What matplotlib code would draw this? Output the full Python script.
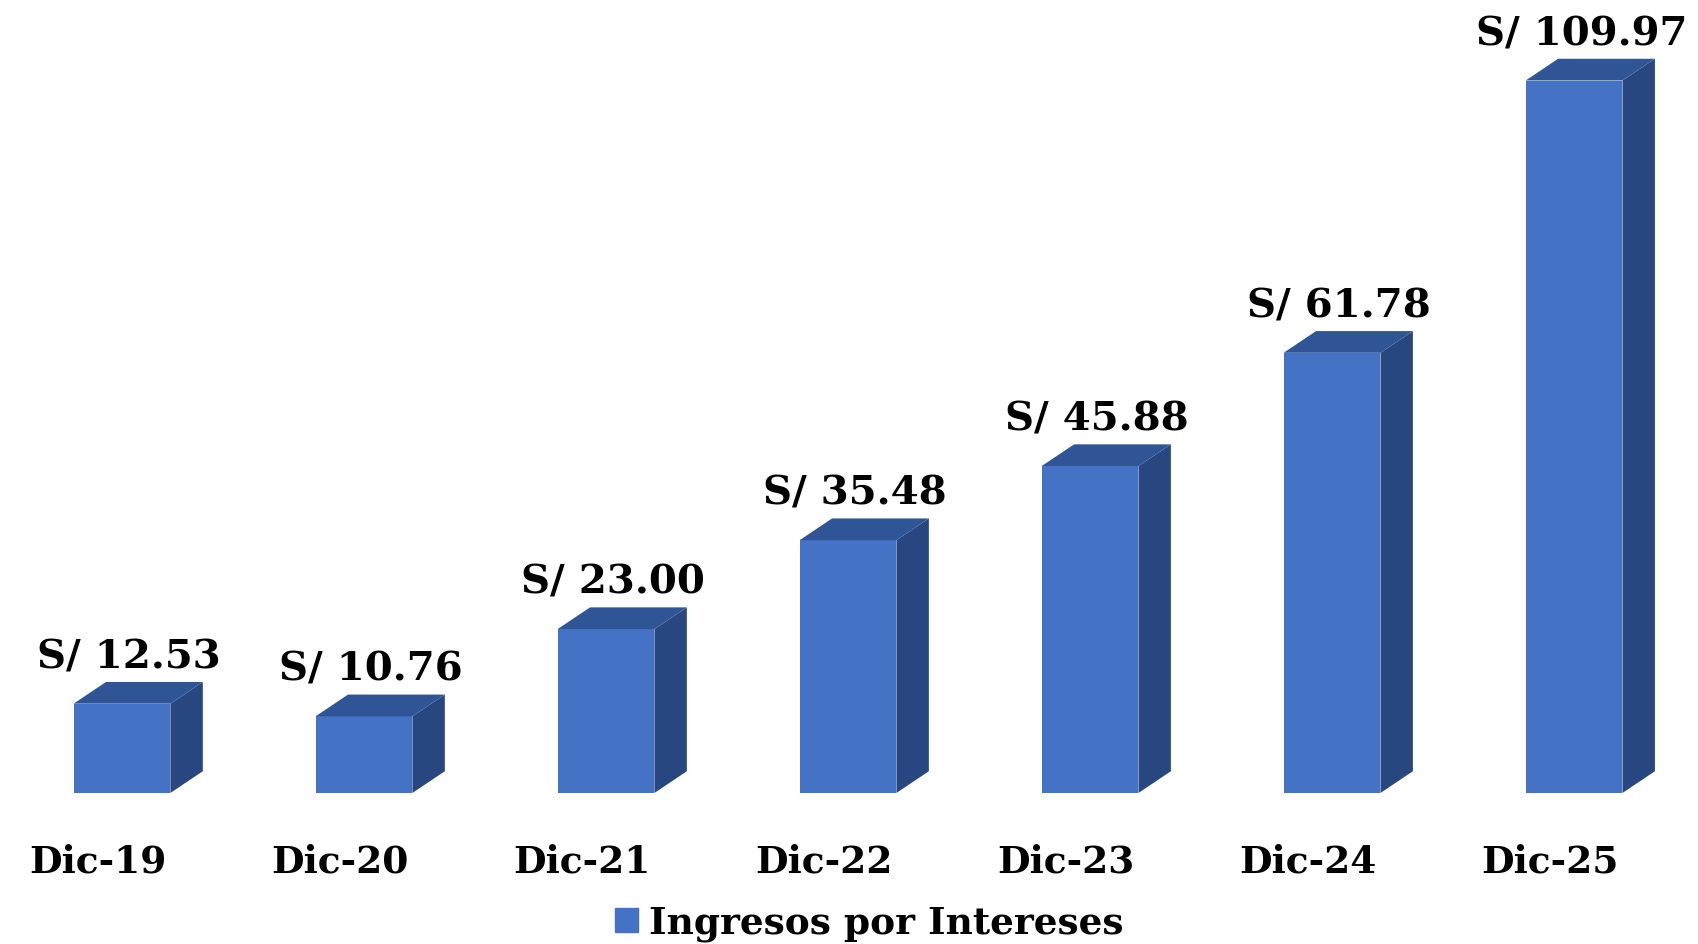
import matplotlib.pyplot as plt
from matplotlib.patches import Patch

categories = ['Dic-19', 'Dic-20', 'Dic-21', 'Dic-22', 'Dic-23', 'Dic-24', 'Dic-25']
values = [12.53, 10.76, 23.00, 35.48, 45.88, 61.78, 109.97]
labels = ['S/ 12.53', 'S/ 10.76', 'S/ 23.00', 'S/ 35.48', 'S/ 45.88', 'S/ 61.78', 'S/ 109.97']
series_name = 'Ingresos por Intereses'
y_max = 100  # value axis max; taller bars are clipped at it

front = '#4472C4'
top_c = '#2F5597'
side_c = '#284680'

fig = plt.figure(figsize=(16.98, 9.44), dpi=100)
ax = fig.add_axes([0, 0.16, 1, 0.84])
ax.set_xlim(-0.504, 6.512)
ax.set_ylim(0, 111.3)
ax.axis('off')

w = 0.40     # front face width
dx = 0.134   # depth offset in x
dy = 3.05    # depth offset in y

for i, v in enumerate(values):
    h = min(v, y_max)
    x0, x1 = i - w / 2, i + w / 2
    # front
    ax.fill([x0, x1, x1, x0], [0, 0, h, h], color=front, lw=0)
    # side
    ax.fill([x1, x1 + dx, x1 + dx, x1], [0, dy, h + dy, h], color=side_c, lw=0)
    # top
    ax.fill([x0, x1, x1 + dx, x0 + dx], [h, h, h + dy, h + dy], color=top_c, lw=0)
    ax.text(i + 0.03, h + dy + 0.8, labels[i], ha='center', va='bottom',
            fontsize=29, fontweight='bold', family='DejaVu Serif', color='black')
    ax.text(i - 0.1, -9.7, categories[i], ha='center', va='center',
            fontsize=27, fontweight='bold', family='DejaVu Serif', color='black')

handle = Patch(color=front, label=series_name)
fig.legend(handles=[handle], loc='center', bbox_to_anchor=(0.512, 0.022),
           frameon=False, prop={'family': 'DejaVu Serif', 'weight': 'bold', 'size': 27},
           handlelength=0.6, handleheight=0.6, handletextpad=0.3)

fig.savefig('out.png', dpi=100)
